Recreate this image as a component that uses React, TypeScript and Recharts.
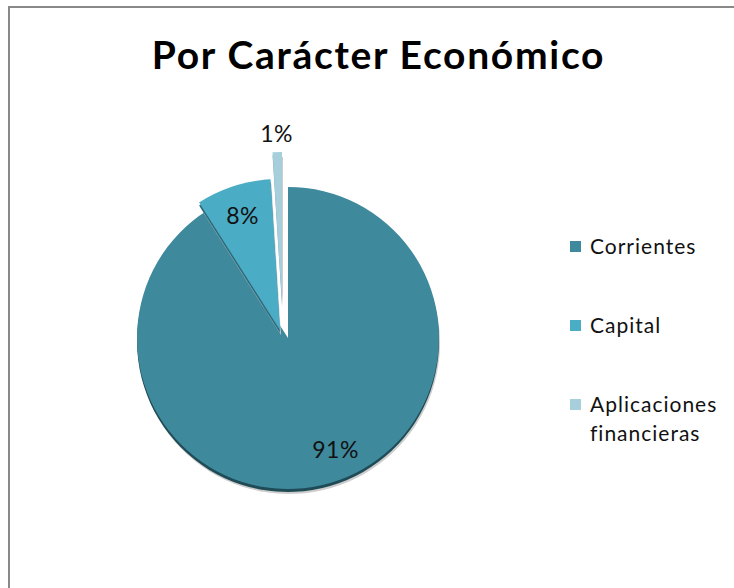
import { Cell, Legend, Pie, PieChart } from 'recharts';

const categories = ['Corrientes', 'Capital', 'Aplicaciones financieras'];
const values = [91, 8, 1];

const colors = ['#3f899d', '#4bacc6', '#a7cfdb'];
const rimColors = ['#1f4b56', '#2b6b7c', '#7fa9b5'];

const data = categories.map((name, i) => ({ name, value: values[i] }));

// base pie centre (inside the 5px default chart margin) and explode offsets per slice
const CX = 275;
const CY = 327;
const R = 151;
const explode = [
  [0, 0],
  [-8, -8],
  [-6, -35]
];
// small angular nudge for inside labels, like Excel's best fit
const labelTurn = [7, 0, 0];

const font = 'Lato, "Noto Sans", sans-serif';

function sliceLabel(target: number) {
  return (props: any) => {
    const { cx, cy, midAngle, outerRadius, percent, index } = props;
    if (index !== target) return null;
    const inside = percent >= 0.05;
    const r = inside ? outerRadius * 0.8 : outerRadius + 19;
    const rad = (Math.PI / 180) * (midAngle + labelTurn[index]);
    const x = cx + r * Math.cos(rad);
    const y = cy - r * Math.sin(rad);
    return (
      <text
        x={x}
        y={y}
        textAnchor='middle'
        dominantBaseline='central'
        fontFamily={font}
        fontSize={23}
        letterSpacing={0.5}
        fill='#111'
      >
        {`${Math.round(percent * 100)}%`}
      </text>
    );
  };
}

function renderLegend() {
  return (
    <div style={{ fontFamily: font, fontSize: 21, letterSpacing: 1, color: '#111', lineHeight: '29px' }}>
      {categories.map((c, i) => (
        <div key={c} style={{ display: 'flex', alignItems: 'flex-start', marginBottom: 50 }}>
          <span style={{ width: 11, height: 11, background: colors[i], marginTop: 10, marginRight: 9, flexShrink: 0 }} />
          <span style={{ width: 150 }}>{c}</span>
        </div>
      ))}
    </div>
  );
}

export default function App() {
  const layers: any[] = [];
  data.forEach((_, k) => {
    const [dx, dy] = explode[k];
    const passes = [
      { key: 'sh', ox: 1, oy: 5, fill: '#cdcdcd' },
      { key: 'rim', ox: 0, oy: 3, fill: rimColors[k] },
      { key: 'top', ox: 0, oy: 0, fill: colors[k] }
    ];
    passes.forEach((p) => {
      layers.push(
        <Pie
          key={`${k}-${p.key}`}
          data={data}
          dataKey='value'
          nameKey='name'
          cx={CX + dx + p.ox}
          cy={CY + dy + p.oy}
          outerRadius={R}
          startAngle={90}
          endAngle={-270}
          stroke='none'
          legendType='none'
          labelLine={false}
          label={p.key === 'top' ? sliceLabel(k) : false}
          isAnimationActive={false}
        >
          {data.map((d, i) => (
            <Cell key={d.name} fill={i === k ? p.fill : 'none'} />
          ))}
        </Pie>
      );
    });
  });

  return (
    <div style={{ position: 'fixed', left: 8, top: 6, width: 726, height: 582, overflow: 'hidden', background: '#fff' }}>
      <div style={{ position: 'absolute', left: 0, top: 0, width: 800, height: 700, border: '2px solid #898989' }} />
      <div
        style={{
          position: 'absolute',
          left: 0,
          top: 25,
          width: 741,
          textAlign: 'center',
          fontFamily: font,
          fontWeight: 700,
          fontSize: 39,
          letterSpacing: 1.7,
          lineHeight: 1.2,
          color: '#000'
        }}
      >
        Por Carácter Económico
      </div>
      <div style={{ position: 'absolute', left: 0, top: 0 }}>
        <PieChart width={726} height={582}>
          {layers}
          <Legend content={renderLegend} wrapperStyle={{ left: 562, top: 225, width: 164 }} />
        </PieChart>
      </div>
    </div>
  );
}
